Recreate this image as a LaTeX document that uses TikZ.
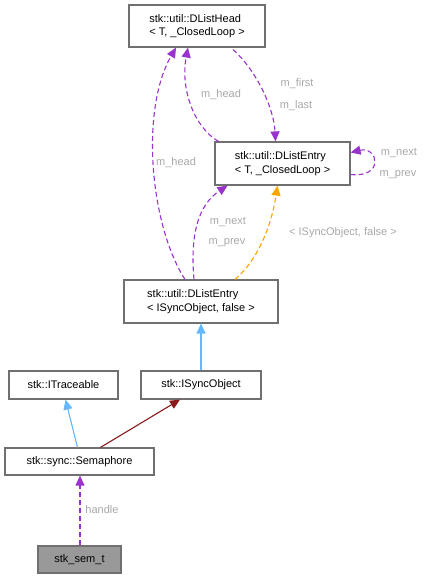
\documentclass[tikz,border=0pt]{standalone}
\usepackage{fontspec}
\setmainfont{Liberation Sans}
\usetikzlibrary{arrows.meta}
\definecolor{edgepurple}{HTML}{9A32CD}
\definecolor{edgeorange}{HTML}{FFA500}
\definecolor{edgeblue}{HTML}{63B8FF}
\definecolor{edgered}{HTML}{8B1A1A}
\definecolor{lblgray}{HTML}{A8A8A8}
\definecolor{boxborder}{HTML}{707070}
\begin{document}
\begin{tikzpicture}[x=1pt,y=1pt,
  box/.style={draw=boxborder, line width=1.2pt, fill=white, inner sep=0pt, align=left, font=\fontsize{11pt}{13.5pt}\selectfont},
  lbl/.style={text=lblgray, font=\fontsize{11pt}{12pt}\selectfont, inner sep=0pt},
  tip/.style={-{Triangle[length=10pt,width=9pt]}},
  usage/.style={tip, color=edgepurple, dash pattern=on 5pt off 3pt, line width=1.1pt},
  tmpl/.style={tip, color=edgeorange, dash pattern=on 5pt off 3pt, line width=1.1pt},
  inh/.style={tip, color=edgeblue, line width=1.1pt},
  priv/.style={tip, color=edgered, line width=1.1pt}
]
\useasboundingbox (0,0) rectangle (431,-579);

\node[box, minimum width=136, minimum height=42] (head) at (197,-26) {stk::util::DListHead\\< T, \_ClosedLoop >};
\node[box, minimum width=135, minimum height=43] (entT) at (282.5,-163.5) {stk::util::DListEntry\\< T, \_ClosedLoop >};
\node[box, minimum width=154, minimum height=43] (entS) at (201,-301.5) {stk::util::DListEntry\\< ISyncObject, false >};
\node[box, minimum width=109, minimum height=28] (trace) at (63.5,-385) {stk::ITraceable};
\node[box, minimum width=120, minimum height=28] (isync) at (201,-385) {stk::ISyncObject};
\node[box, minimum width=149, minimum height=27] (sem) at (79.5,-461.5) {stk::sync::Semaphore};
\node[box, fill=black!40, minimum width=83, minimum height=27] (semt) at (79.5,-559.5) {stk\_sem\_t};

% m_head outer
\draw[usage] ([xshift=-16pt]entS.north) .. controls (150,-225) and (140,-110) .. ([xshift=-21pt]head.south);
\node[lbl] (l1) at (176,-163) {m\_head};
% m_head inner
\draw[usage] ([xshift=-64pt]entT.north) .. controls (195,-128) and (180,-90) .. ([xshift=-9pt]head.south);
\node[lbl] (l2) at (221,-95) {m\_head};
% m_first / m_last
\draw[usage] ([xshift=36pt,yshift=-2pt]head.south) .. controls (258,-72) and (274,-110) .. ([xshift=-7pt]entT.north);
\node[lbl] (l3) at (297,-84) {m\_first};
\node[lbl] (l4) at (296,-106) {m\_last};
% self loop
\draw[usage] ([yshift=-11pt]entT.east) .. controls (385,-178) and (378,-146) .. ([yshift=11pt]entT.east);
\node[lbl] (l5) at (399,-153) {m\_next};
\node[lbl] (l6) at (398,-175) {m\_prev};
% m_next / m_prev
\draw[usage] ([xshift=-7pt]entS.north) .. controls (190,-235) and (198,-205) .. ([xshift=-55pt]entT.south);
\node[lbl] (l7) at (228,-222) {m\_next};
\node[lbl] (l8) at (227,-243) {m\_prev};
% template
\draw[tmpl] ([xshift=34pt]entS.north) .. controls (260,-258) and (272,-222) .. ([xshift=-5pt]entT.south);
\node[lbl] (l9) at (343,-233) {< ISyncObject, false >};
% inheritance
\draw[inh] (isync.north) -- (entS.south);
\draw[inh] ([xshift=-2pt]sem.north) -- ([xshift=2pt]trace.south);
\draw[priv] ([xshift=21pt]sem.north) -- ([xshift=-21pt]isync.south);
% handle
\draw[usage] ([xshift=0.5pt]semt.north) -- ([xshift=0.5pt]sem.south);
\node[lbl] (l10) at (102,-510) {handle};
\end{tikzpicture}
\end{document}
